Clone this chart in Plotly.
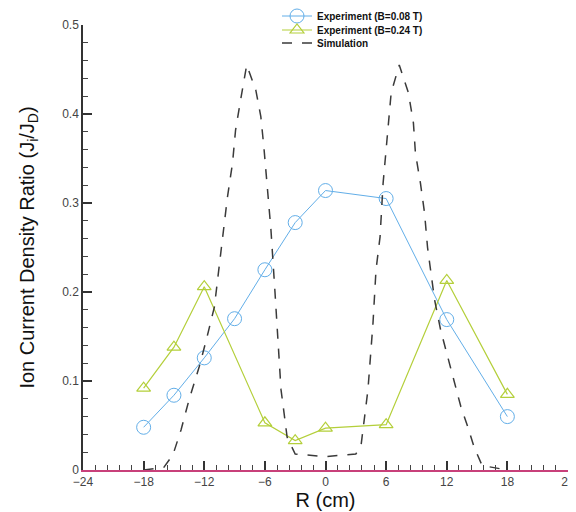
import plotly.graph_objects as go

# Experiment B=0.08 T
exp1_r = [-18, -15, -12, -9, -6, -3, 0, 6, 12, 18]
exp1_j = [0.048, 0.084, 0.126, 0.170, 0.225, 0.278, 0.314, 0.305, 0.169, 0.060]

# Experiment B=0.24 T
exp2_r = [-18, -15, -12, -6, -3, 0, 6, 12, 18]
exp2_j = [0.092, 0.138, 0.206, 0.053, 0.033, 0.047, 0.051, 0.213, 0.085]

# Simulation
sim_r = [-18, -16, -15.1, -14.3, -13.5, -12.5, -11.8, -11, -10.3, -9.7, -9.2, -8.9, -8.4, -7.8,
         -6.9, -6.4, -6.1, -5.8, -5.4, -5.0, -4.7, -4.4, -4.1, -3.8, -3, 0, 3, 3.5, 4.2, 4.7,
         5.0, 5.4, 5.7, 6.0, 6.2, 6.5, 7.3, 8.2, 8.7, 8.9, 9.4, 9.8, 10.1, 10.4, 10.8, 11.4,
         12.1, 12.8, 13.4, 14.1, 14.7, 15.5, 18]
sim_j = [0, 0.003, 0.017, 0.045, 0.079, 0.116, 0.146, 0.183, 0.25, 0.307, 0.345, 0.382, 0.416, 0.455,
         0.427, 0.397, 0.363, 0.326, 0.27, 0.2, 0.14, 0.09, 0.064, 0.037, 0.018, 0.015, 0.018, 0.026, 0.09, 0.165,
         0.225, 0.262, 0.322, 0.363, 0.39, 0.424, 0.455, 0.424, 0.39, 0.356, 0.322, 0.289, 0.25, 0.225, 0.191, 0.157,
         0.127, 0.098, 0.071, 0.048, 0.026, 0.005, 0]

series_names = ["Experiment (B=0.08 T)", "Experiment (B=0.24 T)", "Simulation"]

blue = "#62aee8"
green = "#b4cf3a"

W, H = 568, 504  # page adds an 8px body margin, so this fills the 576x512 window

fig = go.Figure()
fig.add_trace(go.Scatter(x=exp1_r, y=exp1_j, mode="lines+markers", name=series_names[0], legend="legend",
                         line=dict(color=blue, width=1),
                         marker=dict(symbol="circle-open", size=14, color=blue, line=dict(width=1))))
fig.add_trace(go.Scatter(x=exp2_r, y=exp2_j, mode="lines+markers", name=series_names[1], legend="legend2",
                         line=dict(color=green, width=1.2),
                         marker=dict(symbol="triangle-up-open", size=12, color=green, line=dict(width=1.2))))
fig.add_trace(go.Scatter(x=sim_r, y=sim_j, mode="lines", name=series_names[2], legend="legend3",
                         line=dict(color="#3a3a3a", width=1.5, dash="10px,10px")))

def leg(ycenter):
    return dict(x=0.40, y=1 - ycenter / H, xanchor="left", yanchor="middle", yref="container",
                bgcolor="rgba(0,0,0,0)", font=dict(size=10, color="#111", weight="bold"),
                itemwidth=30, borderwidth=0)

fig.update_layout(
    width=W, height=H,
    margin=dict(l=75, r=8, t=17, b=42, autoexpand=False),
    paper_bgcolor="white", plot_bgcolor="white",
    font=dict(family="Liberation Sans, Arial, sans-serif", color="#222"),
    showlegend=True,
    legend=leg(8), legend2=leg(22), legend3=leg(35),
    xaxis=dict(range=[-24, 24], tickmode="linear", tick0=-24, dtick=6, automargin=False,
               ticks="inside", ticklen=9, tickwidth=1.5, tickcolor="#333", showline=True,
               linecolor="#c8407a", linewidth=1.5,
               minor=dict(dtick=1.2, ticks="inside", ticklen=5, tickwidth=1, tickcolor="#444"),
               showgrid=False, zeroline=False, tickfont=dict(size=12, color="#444"),
               title=dict(text="R (cm)", font=dict(size=20, color="#111"), standoff=2)),
    yaxis=dict(range=[0, 0.5], tickmode="linear", tick0=0, dtick=0.1, automargin=False,
               ticks="inside", ticklen=9, tickwidth=1.5, tickcolor="#333", showline=True,
               linecolor="#333", linewidth=1.5,
               minor=dict(dtick=0.02, ticks="inside", ticklen=5, tickwidth=1, tickcolor="#444"),
               showgrid=False, zeroline=False, tickfont=dict(size=12, color="#444"),
               title=dict(text="Ion Current Density Ratio (J<sub>i</sub>/J<sub>D</sub>)",
                          font=dict(size=20, color="#111"), standoff=22)),
)

fig.write_html("out.html")
